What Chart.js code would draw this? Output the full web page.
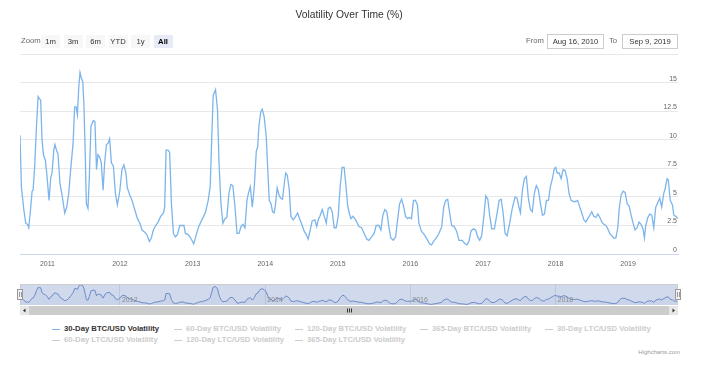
<!DOCTYPE html>
<html>
<head>
<meta charset="utf-8">
<script src="https://cdn.jsdelivr.net/npm/chart.js@4"></script>
<style>
  body { margin: 0; background: #fff; }
  #wrap { position: relative; width: 704px; height: 373px; background: #fff; font-family: "Liberation Sans", Arial, sans-serif; overflow: hidden; }
  canvas { position: absolute; left: 0; }
  .lbl { position: absolute; font-size: 7.7px; line-height: 10px; color: #666; white-space: nowrap; }
  .btn { position: absolute; top: 35px; width: 19px; height: 13px; line-height: 13px; text-align: center; font-size: 7.7px; color: #333; background: #f7f7f7; }
  .btn.sel { background: #e6ebf5; color: #000; font-weight: bold; }
  .box { position: absolute; top: 34px; height: 13px; line-height: 13px; border: 1px solid #cccccc; background: #fff; font-size: 7.7px; color: #333; text-align: center; }
  .leg { position: absolute; font-size: 7.7px; line-height: 10px; font-weight: bold; white-space: nowrap; }
  .leg i { position: absolute; left: 0; top: 4.5px; width: 8px; height: 1.3px; }
  .leg span { position: absolute; left: 12px; top: 0; }
  #credits { position: absolute; right: 24px; top: 348px; font-size: 6px; line-height: 8px; color: #999; }
</style>
</head>
<body>
<div id="wrap">
  <canvas id="main" width="704" height="275" style="top:0"></canvas>
  <div id="range"></div>
  <canvas id="nav" width="704" height="40" style="top:280px"></canvas>
  <div id="legend"></div>
  <div id="credits">Highcharts.com</div>
</div>
<script>
// 30-day BTC/USD volatility
const dates = [
  '2010-08-16','2010-08-23','2010-09-04','2010-09-14','2010-09-23','2010-09-29','2010-10-09','2010-10-16','2010-10-21','2010-10-29',
  '2010-11-07','2010-11-15','2010-11-22','2010-11-28','2010-12-05','2010-12-12','2010-12-22','2010-12-30','2011-01-09','2011-01-18',
  '2011-01-24','2011-02-02','2011-02-08','2011-02-17','2011-02-23','2011-03-05','2011-03-17','2011-03-29','2011-04-08','2011-04-18',
  '2011-04-28','2011-05-10','2011-05-18','2011-05-25','2011-06-01','2011-06-08','2011-06-14','2011-06-21','2011-06-28','2011-07-04',
  '2011-07-11','2011-07-16','2011-07-24','2011-07-31','2011-08-08','2011-08-20','2011-08-28','2011-09-05','2011-09-12','2011-09-21',
  '2011-09-29','2011-10-08','2011-10-16','2011-10-25','2011-11-02','2011-11-10','2011-11-19','2011-11-29','2011-12-09','2011-12-19',
  '2011-12-31','2012-01-11','2012-01-21','2012-01-31','2012-02-07','2012-02-19','2012-03-02','2012-03-15','2012-03-29','2012-04-10',
  '2012-04-21','2012-05-05','2012-05-15','2012-05-28','2012-06-07','2012-06-17','2012-06-29','2012-07-11','2012-07-24','2012-08-07',
  '2012-08-13','2012-08-20','2012-08-30','2012-09-07','2012-09-16','2012-09-26','2012-10-06','2012-10-16','2012-10-28','2012-11-08',
  '2012-11-18','2012-11-25','2012-12-09','2012-12-22','2013-01-06','2013-01-16','2013-01-29','2013-02-11','2013-02-25','2013-03-07',
  '2013-03-20','2013-03-30','2013-04-06','2013-04-14','2013-04-26','2013-05-06','2013-05-13','2013-05-23','2013-06-02','2013-06-12',
  '2013-06-22','2013-07-02','2013-07-12','2013-07-22','2013-08-02','2013-08-12','2013-08-22','2013-09-01','2013-09-11','2013-09-21',
  '2013-10-01','2013-10-08','2013-10-18','2013-10-28','2013-11-07','2013-11-17','2013-11-24','2013-11-30','2013-12-10','2013-12-17',
  '2013-12-27','2014-01-06','2014-01-13','2014-01-21','2014-01-30','2014-02-07','2014-02-15','2014-02-22','2014-03-02','2014-03-11',
  '2014-03-19','2014-03-29','2014-04-07','2014-04-14','2014-04-22','2014-05-02','2014-05-10','2014-05-22','2014-06-03','2014-06-13',
  '2014-06-25','2014-07-06','2014-07-16','2014-07-26','2014-08-05','2014-08-15','2014-08-25','2014-09-08','2014-09-17','2014-09-25',
  '2014-10-05','2014-10-15','2014-10-25','2014-11-04','2014-11-14','2014-11-24','2014-12-04','2014-12-14','2014-12-24','2015-01-03',
  '2015-01-13','2015-01-23','2015-02-02','2015-02-11','2015-02-19','2015-02-26','2015-03-08','2015-03-18','2015-03-28','2015-04-07',
  '2015-04-17','2015-05-01','2015-05-14','2015-05-27','2015-06-07','2015-06-20','2015-07-03','2015-07-13','2015-07-27','2015-08-06',
  '2015-08-16','2015-08-26','2015-09-05','2015-09-15','2015-09-25','2015-10-07','2015-10-19','2015-10-29','2015-11-08','2015-11-18',
  '2015-11-28','2015-12-08','2015-12-18','2015-12-28','2016-01-07','2016-01-17','2016-01-27','2016-02-06','2016-02-13','2016-02-26',
  '2016-03-11','2016-03-25','2016-04-07','2016-04-17','2016-04-27','2016-05-10','2016-05-24','2016-06-07','2016-06-17','2016-06-27',
  '2016-07-07','2016-07-17','2016-07-27','2016-08-09','2016-08-21','2016-09-02','2016-09-18','2016-10-02','2016-10-12','2016-10-22',
  '2016-11-01','2016-11-13','2016-11-25','2016-12-05','2016-12-15','2016-12-25','2017-01-05','2017-01-15','2017-01-25','2017-02-04',
  '2017-02-14','2017-02-27','2017-03-13','2017-03-23','2017-04-02','2017-04-12','2017-04-22','2017-05-02','2017-05-15','2017-05-28',
  '2017-06-11','2017-06-21','2017-06-28','2017-07-08','2017-07-18','2017-07-28','2017-08-07','2017-08-17','2017-08-27','2017-09-06',
  '2017-09-16','2017-09-26','2017-10-07','2017-10-17','2017-10-27','2017-11-06','2017-11-16','2017-11-26','2017-12-06','2017-12-16',
  '2017-12-26','2018-01-02','2018-01-09','2018-01-19','2018-01-29','2018-02-08','2018-02-18','2018-02-28','2018-03-10','2018-03-20',
  '2018-04-01','2018-04-12','2018-04-22','2018-05-03','2018-05-13','2018-05-23','2018-06-02','2018-06-12','2018-06-22','2018-07-02',
  '2018-07-12','2018-07-22','2018-08-02','2018-08-12','2018-08-22','2018-09-01','2018-09-11','2018-09-21','2018-10-01','2018-10-11',
  '2018-10-21','2018-10-31','2018-11-10','2018-11-18','2018-11-27','2018-12-07','2018-12-17','2018-12-27','2019-01-06','2019-01-16',
  '2019-01-26','2019-02-05','2019-02-15','2019-02-25','2019-03-07','2019-03-17','2019-03-24','2019-03-31','2019-04-10','2019-04-20',
  '2019-04-30','2019-05-10','2019-05-20','2019-05-30','2019-06-09','2019-06-19','2019-06-29','2019-07-06','2019-07-16','2019-07-22',
  '2019-08-01','2019-08-12','2019-08-19','2019-08-29','2019-09-09'
];
const btc30 = [
  10.4,5.9,3.9,2.7,2.6,2.3,4.1,5.5,5.6,7.7,
  11.2,13.8,13.6,13.5,10.0,8.7,8.2,6.8,4.7,6.7,
  7.1,9.1,9.6,9.0,8.8,6.2,5.0,3.6,4.1,5.3,
  7.4,9.7,12.9,12.9,12.2,14.7,15.9,15.4,15.1,12.9,
  8.2,4.4,4.0,6.8,11.2,11.7,11.6,7.4,8.7,8.5,
  8.0,5.6,8.0,9.6,9.7,10.1,8.0,7.7,5.3,4.3,
  5.5,7.4,7.8,7.1,5.8,5.2,4.7,3.9,3.1,2.7,
  2.1,1.9,1.7,1.1,1.4,2.1,2.5,2.8,3.3,3.6,
  4.1,9.1,9.1,8.9,4.4,1.8,1.5,1.7,2.5,2.5,
  2.5,1.8,1.7,1.4,0.9,1.5,2.3,2.8,3.3,3.7,
  4.7,5.9,9.7,13.9,14.4,12.6,8.2,4.4,2.7,3.1,
  3.2,5.3,6.1,6.0,4.1,1.8,1.8,2.4,2.6,2.3,
  4.7,5.3,5.9,4.1,5.9,9.0,9.4,11.2,12.5,12.7,
  12.0,10.3,7.7,4.7,4.4,3.7,3.6,4.4,5.8,5.2,
  4.9,4.8,6.2,7.1,6.9,5.6,3.3,3.0,3.3,3.6,
  3.0,2.5,2.0,1.7,1.3,2.1,2.9,3.0,2.4,3.0,
  3.4,3.9,3.3,2.7,4.0,4.1,3.7,2.3,2.3,3.3,
  5.9,7.6,7.6,6.0,4.4,3.7,3.1,3.3,3.1,2.8,
  2.4,2.3,1.8,1.3,1.2,1.5,1.8,2.5,2.5,2.1,
  3.4,3.9,3.7,2.4,1.4,1.2,1.5,3.0,4.4,4.8,
  4.2,3.3,3.1,3.2,3.1,4.7,4.7,4.3,2.7,2.0,
  1.7,1.3,0.9,0.8,1.1,1.4,1.8,2.4,4.1,4.7,
  4.8,3.6,2.5,2.4,2.0,1.2,1.2,0.9,0.8,1.1,
  2.0,2.2,2.1,1.5,1.2,1.6,3.3,5.1,4.8,3.3,
  2.2,2.2,3.6,4.7,4.8,3.6,1.8,1.6,2.7,4.0,
  5.0,4.9,4.3,3.6,5.6,6.6,6.8,4.9,3.9,3.7,
  5.3,6.0,5.6,4.4,3.4,3.5,4.7,4.7,5.9,6.6,
  7.5,7.6,7.1,7.1,6.6,7.4,7.3,6.6,5.3,4.7,
  4.6,4.6,4.7,4.1,3.6,3.0,2.8,3.1,3.4,3.7,
  3.3,3.2,3.5,3.2,2.8,2.6,2.5,2.2,1.8,1.6,
  1.4,1.4,2.3,4.1,5.2,5.5,5.4,4.4,4.2,3.4,
  2.7,2.1,2.3,2.8,2.6,2.2,1.4,2.5,3.2,3.5,
  3.4,2.3,4.1,4.5,4.9,4.1,5.3,5.7,6.6,6.5,
  4.7,4.3,3.4,3.3,3.1
];
const xTickYears = [2011, 2012, 2013, 2014, 2015, 2016, 2017, 2018, 2019];
const navTickYears = [2012, 2014, 2016, 2018];
const yTickStep = 2.5;
const yMax = 17.5;
const seriesNames = [
  '30-Day BTC/USD Volatility', '60-Day BTC/USD Volatility', '120-Day BTC/USD Volatility',
  '365-Day BTC/USD Volatility', '30-Day LTC/USD Volatility', '60-Day LTC/USD Volatility',
  '120-Day LTC/USD Volatility', '365-Day LTC/USD Volatility'
];
const seriesVisible = [true, false, false, false, false, false, false, false];
const rangeButtons = ['1m', '3m', '6m', 'YTD', '1y', 'All'];
const monthNames = ['Jan','Feb','Mar','Apr','May','Jun','Jul','Aug','Sep','Oct','Nov','Dec'];

Chart.defaults.font.family = '"Liberation Sans", Arial, sans-serif';

const times = dates.map(d => Date.parse(d));
const points = times.map((t, i) => ({ x: t, y: btc30[i] }));
const xMin = times[0], xMax = times[times.length - 1];

function yearTicks(years) {
  return function (scale) {
    scale.ticks = years.map(y => ({ value: Date.UTC(y, 0, 1) }));
  };
}
const yearLabel = v => new Date(v).getUTCFullYear();

// main chart
new Chart(document.getElementById('main'), {
  type: 'line',
  data: {
    datasets: [{
      label: seriesNames[0],
      data: points,
      borderColor: '#7cb5ec',
      borderWidth: 1.3,
      pointRadius: 0,
      tension: 0,
      fill: false
    }]
  },
  options: {
    responsive: false,
    animation: false,
    events: [],
    layout: { padding: { left: 20, right: 26, top: 0, bottom: 0 } },
    plugins: {
      legend: { display: false },
      tooltip: { enabled: false },
      title: {
        display: true,
        text: 'Volatility Over Time (%)',
        color: '#333333',
        font: { size: 10.3, weight: 'normal' },
        padding: { top: 9, bottom: 33 }
      }
    },
    scales: {
      x: {
        type: 'linear',
        min: xMin,
        max: xMax,
        afterBuildTicks: yearTicks(xTickYears),
        afterFit: s => { s.height = 21; },
        grid: { display: false, drawTicks: false },
        border: { display: true, color: '#ccd6eb', width: 1 },
        ticks: { callback: yearLabel, color: '#666', font: { size: 7 }, padding: 6, maxRotation: 0 }
      },
      y: {
        position: 'right',
        min: 0,
        max: yMax,
        afterFit: s => { s.width = 0; },
        grid: { color: '#e8e8e8', lineWidth: 1, drawTicks: false },
        border: { display: false },
        ticks: {
          stepSize: yTickStep,
          mirror: true,
          padding: -1,
          labelOffset: -4,
          color: '#666',
          font: { size: 7 },
          callback: v => (v > 15 ? '' : v)
        }
      }
    }
  }
});

// navigator decorations: mask, outline, handles, scrollbar, labels
const navDecor = {
  id: 'navDecor',
  beforeDatasetsDraw(chart) {
    const { ctx, chartArea: a } = chart;
    ctx.save();
    ctx.fillStyle = 'rgba(102,133,194,0.3)';
    ctx.fillRect(a.left, a.top, a.right - a.left, a.bottom - a.top);
    ctx.restore();
  },
  afterDraw(chart) {
    const { ctx, chartArea: a, scales } = chart;
    ctx.save();
    // year labels inside the navigator
    ctx.fillStyle = '#8a8a8a';
    ctx.font = '7px "Liberation Sans", Arial, sans-serif';
    ctx.textBaseline = 'alphabetic';
    scales.x.ticks.forEach(t => {
      ctx.fillText(yearLabel(t.value), scales.x.getPixelForValue(t.value) + 2, a.bottom - 3);
    });
    // outline
    ctx.strokeStyle = '#cccccc';
    ctx.lineWidth = 1;
    ctx.beginPath();
    ctx.moveTo(a.left + 0.5, a.bottom);
    ctx.lineTo(a.left + 0.5, a.top + 0.5);
    ctx.lineTo(a.right - 0.5, a.top + 0.5);
    ctx.lineTo(a.right - 0.5, a.bottom);
    ctx.stroke();
    // handles
    const mid = (a.top + a.bottom) / 2;
    [a.left, a.right].forEach(x => {
      ctx.fillStyle = '#f2f2f2';
      ctx.strokeStyle = '#999999';
      ctx.fillRect(x - 2.5, mid - 5, 5, 10);
      ctx.strokeRect(x - 2.5, mid - 5, 5, 10);
      ctx.beginPath();
      ctx.moveTo(x - 0.5, mid - 2.5); ctx.lineTo(x - 0.5, mid + 2.5);
      ctx.moveTo(x + 1.5, mid - 2.5); ctx.lineTo(x + 1.5, mid + 2.5);
      ctx.stroke();
    });
    // scrollbar
    const y0 = a.bottom + 1, h = 9, w = a.right - a.left;
    ctx.fillStyle = '#f2f2f2';
    ctx.fillRect(a.left, y0, w, h);
    ctx.fillStyle = '#cccccc';
    ctx.fillRect(a.left + h, y0, w - 2 * h, h);
    ctx.fillStyle = '#e6e6e6';
    ctx.fillRect(a.left, y0, h, h);
    ctx.fillRect(a.right - h, y0, h, h);
    ctx.fillStyle = '#333';
    ctx.beginPath();
    ctx.moveTo(a.left + 3, y0 + h / 2); ctx.lineTo(a.left + 5.5, y0 + 2.5); ctx.lineTo(a.left + 5.5, y0 + h - 2.5); ctx.closePath();
    ctx.moveTo(a.right - 3, y0 + h / 2); ctx.lineTo(a.right - 5.5, y0 + 2.5); ctx.lineTo(a.right - 5.5, y0 + h - 2.5); ctx.closePath();
    ctx.fill();
    const cx = Math.round((a.left + a.right) / 2);
    ctx.strokeStyle = '#333';
    ctx.beginPath();
    [-2, 0, 2].forEach(d => { ctx.moveTo(cx + d + 0.5, y0 + 2.5); ctx.lineTo(cx + d + 0.5, y0 + h - 2.5); });
    ctx.stroke();
    ctx.restore();
  }
};

new Chart(document.getElementById('nav'), {
  type: 'line',
  data: {
    datasets: [{
      data: points,
      borderColor: '#5577bb',
      borderWidth: 0.8,
      backgroundColor: 'rgba(51,92,173,0.05)',
      pointRadius: 0,
      tension: 0,
      fill: 'origin'
    }]
  },
  options: {
    responsive: false,
    animation: false,
    events: [],
    layout: { padding: { left: 20, right: 26, top: 4, bottom: 15 } },
    plugins: { legend: { display: false }, tooltip: { enabled: false } },
    scales: {
      x: {
        type: 'linear',
        min: xMin,
        max: xMax,
        afterBuildTicks: yearTicks(navTickYears),
        afterFit: s => { s.height = 0; },
        grid: { color: '#e6e6e6', drawTicks: false },
        border: { display: false },
        ticks: { display: false }
      },
      y: { display: false, min: 0.3, max: 16.4 }
    }
  },
  plugins: [navDecor]
});

// range selector and date inputs
const fmt = t => { const d = new Date(t); return monthNames[d.getUTCMonth()] + ' ' + d.getUTCDate() + ', ' + d.getUTCFullYear(); };
const range = document.getElementById('range');
let html = '<div class="lbl" style="left:21px;top:36px">Zoom</div>';
rangeButtons.forEach((b, i) => {
  html += '<div class="btn' + (b === 'All' ? ' sel' : '') + '" style="left:' + (41 + i * 22.5) + 'px">' + b + '</div>';
});
html += '<div class="lbl" style="left:526px;top:36px">From</div>';
html += '<div class="box" style="left:547px;width:55px">' + fmt(xMin) + '</div>';
html += '<div class="lbl" style="left:609px;top:36px">To</div>';
html += '<div class="box" style="left:622px;width:54px">' + fmt(xMax) + '</div>';
range.innerHTML = html;

// legend
const legCols = [52, 174, 295, 420, 545];
const legend = document.getElementById('legend');
legend.innerHTML = seriesNames.map((name, i) => {
  const row = Math.floor(i / legCols.length), col = i % legCols.length;
  const c = seriesVisible[i] ? '#333333' : '#cccccc';
  const sym = seriesVisible[i] ? '#7cb5ec' : '#cccccc';
  return '<div class="leg" style="left:' + legCols[col] + 'px;top:' + (324 + row * 11) + 'px">' +
    '<i style="background:' + sym + '"></i><span style="color:' + c + '">' + name + '</span></div>';
}).join('');
</script>
</body>
</html>
